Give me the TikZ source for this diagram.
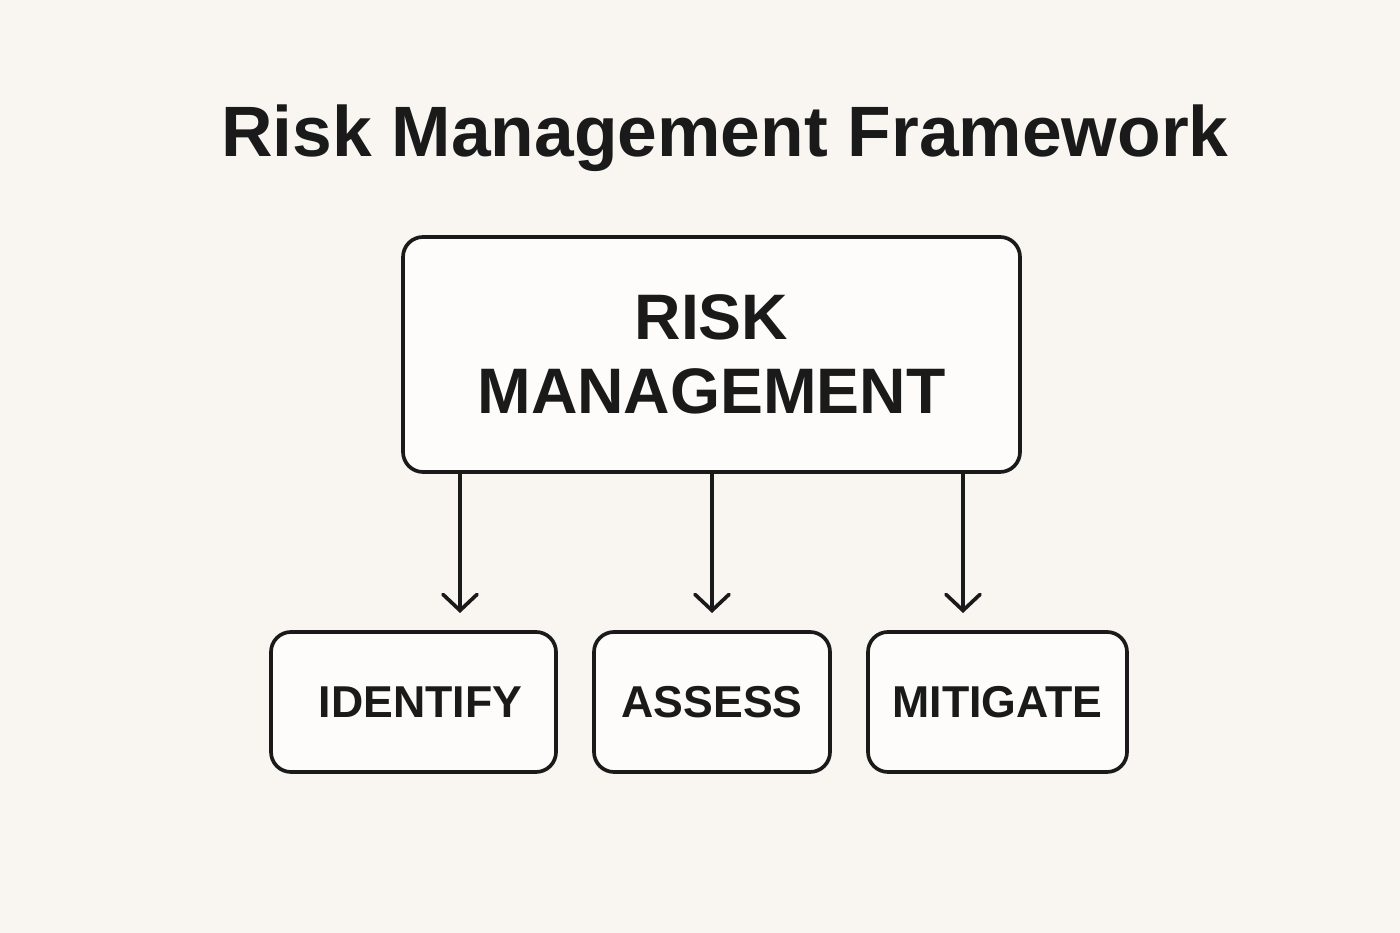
\documentclass[tikz,border=0pt]{standalone}
\usepackage{fontspec}
\setmainfont{Liberation Sans}
\usetikzlibrary{arrows.meta}
\definecolor{bgpaper}{HTML}{F9F6F2}
\definecolor{boxfill}{HTML}{FDFCFA}
\definecolor{ink}{HTML}{1A1A1A}
\begin{document}
\begin{tikzpicture}[line width=1pt, draw=ink, text=ink,
	box/.style={rectangle, rounded corners=0.2cm, draw, fill=boxfill, line width=1.05pt, font=\bfseries, align=center, inner sep=0pt},
	link/.style={ink, line width=1.05pt, -{Straight Barb[length=0.16cm,width=0.34cm,line cap=round]}}]
	\fill[bgpaper] (0,0) rectangle (14,9.33);
	\useasboundingbox (0,0) rectangle (14,9.33);
	\node(t)[anchor=base, font=\fontsize{20.3}{24}\selectfont\bfseries] at (7.25,7.76) {Risk Management Framework};
	\path (7.115,5.785) node(m)[box, minimum width=6.17cm, minimum height=2.35cm, font=\fontsize{18.3}{21}\selectfont\bfseries]{RISK\\MANAGEMENT}
	(4.135,2.31) node(i)[box, minimum width=2.85cm, minimum height=1.4cm, font=\fontsize{12.7}{16}\selectfont\bfseries]{\hspace{0.14cm}IDENTIFY}
	(7.12,2.31) node(s)[box, minimum width=2.36cm, minimum height=1.4cm, font=\fontsize{12.7}{16}\selectfont\bfseries]{ASSESS}
	(9.975,2.31) node(g)[box, minimum width=2.59cm, minimum height=1.4cm, font=\fontsize{12.7}{16}\selectfont\bfseries]{MITIGATE};
	\coordinate (ti) at (4.60,3.20);
	\coordinate (ts) at (7.12,3.20);
	\coordinate (tg) at (9.63,3.20);
	\draw [link] (m.south -| ti) -- (ti);
	\draw [link] (m.south -| ts) -- (ts);
	\draw [link] (m.south -| tg) -- (tg);
\end{tikzpicture}
\end{document}
